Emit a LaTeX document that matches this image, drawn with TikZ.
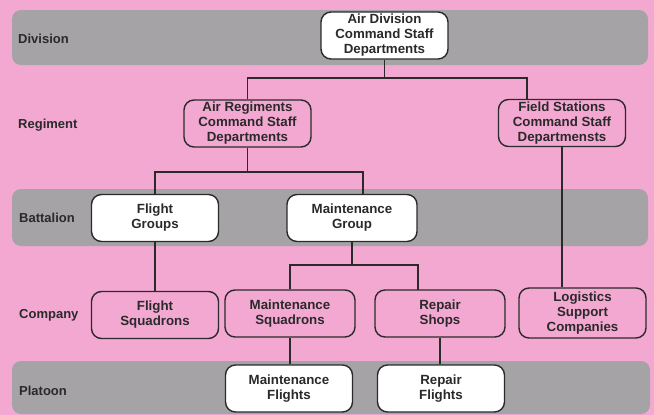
\documentclass[tikz,border=0pt]{standalone}
\usepackage{fontspec}
\setmainfont{Liberation Sans}
\definecolor{bgpink}{HTML}{F3A8D2}
\definecolor{bandgrey}{HTML}{A5A3A5}
\definecolor{ink}{HTML}{2A2A2A}
\begin{document}
\begin{tikzpicture}[x=1pt,y=-1pt,
  band/.style={fill=bandgrey, draw=none, rounded corners=9pt},
  unit/.style={draw=ink, line width=1.4pt, rounded corners=10pt, minimum width=127pt,
    minimum height=47pt, inner sep=1pt, align=center, text=ink,
    font=\fontsize{13.3}{15}\selectfont\bfseries},
  onpink/.style={unit, fill=bgpink},
  ongrey/.style={unit, fill=white},
  lvl/.style={anchor=west, text=ink, font=\fontsize{13}{15}\selectfont\bfseries, inner sep=0pt},
  link/.style={draw=ink, line width=1.4pt}]
\fill[bgpink] (0,0) rectangle (654,415);
\useasboundingbox (0,0) rectangle (654,415);
% bands
\path[band] (12,10) rectangle (648,65);
\path[band] (12,189) rectangle (648,246);
\path[band] (12,361) rectangle (650,414);
% level labels
\node[lvl] (lDiv) at (18,39) {Division};
\node[lvl] (lReg) at (18,125) {Regiment};
\node[lvl] (lBat) at (19,218) {Battalion};
\node[lvl] (lCom) at (19,315) {Company};
\node[lvl] (lPla) at (19,391) {Platoon};
% units
\node[ongrey] (AD) at (384.5,35.5) {Air Division\\Command Staff\\Departments};
\node[onpink] (AR) at (247.5,123.5) {Air Regiments\\Command Staff\\Departments};
\node[onpink] (FS) at (562,123) {Field Stations\\Command Staff\\Departmensts};
\node[ongrey] (FG) at (155,218) {Flight\\Groups};
\node[ongrey, minimum width=130pt] (MG) at (352,218) {Maintenance\\Group};
\node[onpink] (FSq) at (155,315) {Flight\\Squadrons};
\node[onpink, minimum width=130pt] (MSq) at (290,313.5) {Maintenance\\Squadrons};
\node[onpink, minimum width=130pt] (RS) at (440,313.5) {Repair\\Shops};
\node[onpink, minimum height=50pt] (LSC) at (582.5,313) {Logistics\\Support\\Companies};
\node[ongrey] (MF) at (289,388.5) {Maintenance\\Flights};
\node[ongrey] (RF) at (441,388.5) {Repair\\Flights};
% bus coordinates
\coordinate (b1) at (0,78);
\coordinate (b2) at (0,172);
\coordinate (b3) at (0,265);
\coordinate (fsin) at (527,99.5);
\coordinate (mgin) at (363,194.5);
\coordinate (rsin) at (418,290);
% connectors
\draw[link] (AD.south) -- (AD.south |- b1);
\draw[link] (AR.north) |- (fsin |- b1) -- (fsin);
\draw[link] (AR.south) -- (AR.south |- b2);
\draw[link] (FG.north) |- (mgin |- b2) -- (mgin);
\draw[link] (FS.south) -- (FS.south |- LSC.north);
\draw[link] (FG.south) -- (FSq.north);
\draw[link] (MG.south) -- (MG.south |- b3);
\draw[link] (MSq.north) |- (rsin |- b3) -- (rsin);
\draw[link] (MSq.south) -- (MSq.south |- MF.north);
\draw[link] (RS.south) -- (RS.south |- RF.north);
\end{tikzpicture}
\end{document}
